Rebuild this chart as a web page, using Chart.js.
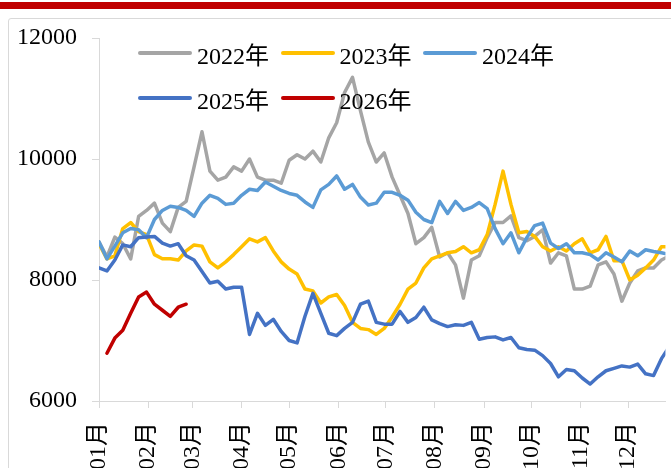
<!DOCTYPE html>
<html>
<head>
<meta charset="utf-8">
<script src="https://cdn.jsdelivr.net/npm/chart.js@4.4.1/dist/chart.umd.min.js"></script>
<style>
html, body { margin: 0; padding: 0; background: #fff; overflow: hidden; }
#wrap { position: relative; width: 671px; height: 468px; overflow: hidden; }
#topbar { position: absolute; left: 0; top: 2px; width: 671px; height: 7px; background: #c00000; }
#frame { position: absolute; left: 8px; top: 18px; width: 720px; height: 520px; border: 1px solid #d9d9d9; border-radius: 3px; }
#chart { position: absolute; left: 0; top: 0; }
.lg-item { position: absolute; height: 30px; display: flex; align-items: center; font: 24px 'Times New Roman', 'Liberation Serif', 'Noto Sans CJK SC', serif; color: #000; white-space: nowrap; }
.lg-line { width: 54px; height: 4px; border-radius: 2px; margin-right: 5px; }
</style>
</head>
<body>
<div id="wrap">
    <div id="topbar"></div>
    <div id="frame"></div>
    <canvas id="chart" width="671" height="468"></canvas>
    <div id="legend"></div>
</div>
<script>

// day of year for each sample (5 day step)
const days = [
    0, 5, 10, 15, 20, 25, 30, 35, 40, 45, 50, 55, 60, 65, 70, 75, 80, 85, 90, 95,
    100, 105, 110, 115, 120, 125, 130, 135, 140, 145, 150, 155, 160, 165, 170, 175, 180, 185, 190, 195,
    200, 205, 210, 215, 220, 225, 230, 235, 240, 245, 250, 255, 260, 265, 270, 275, 280, 285, 290, 295,
    300, 305, 310, 315, 320, 325, 330, 335, 340, 345, 350, 355, 360
];

const monthStarts = [ 0, 31, 59, 90, 120, 151, 181, 212, 243, 273, 304, 334 ];
const monthLabels = [ '01月', '02月', '03月', '04月', '05月', '06月', '07月', '08月', '09月', '10月', '11月', '12月' ];

const yTicks = [ 6000, 8000, 10000, 12000 ];

const seriesNames = [ '2022年', '2023年', '2024年', '2025年', '2026年' ];
const seriesColors = [ '#a5a5a5', '#ffc000', '#5b9bd5', '#4472c4', '#c00000' ];

const y2022 = [
    8630, 8380, 8710, 8600, 8350, 9050, 9150, 9270, 8940, 8800,
    9200, 9300, 9870, 10450, 9800, 9650, 9700, 9870, 9800, 10000,
    9700, 9650, 9650, 9600, 9980, 10070, 10000, 10130, 9950, 10350,
    10600, 11100, 11350, 10800, 10280, 9950, 10100, 9700, 9400, 9100,
    8600, 8700, 8870, 8380, 8450, 8250, 7700, 8330, 8400, 8700,
    8950, 8950, 9060, 8700, 8650, 8720, 8830, 8280, 8450, 8400,
    7850, 7850, 7900, 8250, 8300, 8100, 7650, 7950, 8150, 8200,
    8200, 8330, 8400
];

const y2023 = [
    8600, 8350, 8400, 8850, 8950, 8800, 8750, 8420, 8350, 8350,
    8330, 8480, 8580, 8560, 8300, 8200, 8300, 8420, 8550, 8680,
    8630, 8700, 8480, 8300, 8180, 8100, 7850, 7820, 7620, 7720,
    7760, 7580, 7300, 7200, 7180, 7100, 7200, 7390, 7600, 7850,
    7950, 8200, 8350, 8400, 8450, 8470, 8550, 8450, 8500, 8750,
    9250, 9800, 9250, 8780, 8800, 8720, 8550, 8480, 8550, 8480,
    8600, 8680, 8450, 8500, 8720, 8320, 8320, 8000, 8080, 8200,
    8330, 8550, 8550
];

const y2024 = [
    8630, 8350, 8560, 8780, 8850, 8830, 8700, 9000, 9150, 9220,
    9200, 9150, 9050, 9270, 9400, 9350, 9250, 9270, 9400, 9500,
    9480, 9620, 9550, 9480, 9430, 9400, 9290, 9200, 9490, 9580,
    9720, 9500, 9580, 9370, 9240, 9270, 9450, 9450, 9400, 9320,
    9120, 9000, 8950, 9300, 9100, 9300, 9150, 9200, 9280, 9180,
    8850, 8600, 8780, 8450, 8700, 8900, 8940, 8610, 8520, 8600,
    8450, 8450, 8420, 8330, 8450, 8380, 8300, 8480, 8400, 8500,
    8470, 8450, 8420
];

const y2025 = [
    8200, 8150, 8330, 8580, 8550, 8700, 8710, 8720, 8610, 8560,
    8600, 8400, 8330, 8140, 7950, 7980, 7850, 7880, 7880, 7100,
    7450, 7250, 7350, 7150, 7000, 6960, 7400, 7780, 7450, 7120,
    7080, 7200, 7300, 7600, 7650, 7300, 7270, 7270, 7480, 7300,
    7380, 7550, 7340, 7280, 7230, 7260, 7250, 7300, 7020, 7050,
    7060, 7010, 7050, 6880, 6850, 6840, 6750, 6620, 6400, 6520,
    6500, 6380, 6280, 6400, 6500, 6540, 6580, 6560, 6610, 6450,
    6420, 6700, 6900
];

const y2026 = [ null, 6790, 7040, 7170, 7450, 7720, 7800, 7600, 7500, 7400, 7550, 7600 ];

const seriesValues = [ y2022, y2023, y2024, y2025, y2026 ];

const fontFamily = "'Times New Roman', 'Liberation Serif', 'Noto Sans CJK SC', serif";

/**
 * build the html legend (two rows, three columns)
 */
function legend_add() {

    let box = document.getElementById( 'legend' );

    seriesNames.forEach( ( name, i ) => {

        let item = document.createElement( 'div' ),
            line = document.createElement( 'span' ),
            text = document.createElement( 'span' );

        item.className = 'lg-item';
        item.style.left = ( 138 + ( i % 3 ) * 142.5 ) + 'px';
        item.style.top = ( 38 + Math.floor( i / 3 ) * 45 ) + 'px';
        line.className = 'lg-line';
        line.style.background = seriesColors[ i ];
        text.textContent = name;

        item.appendChild( line );
        item.appendChild( text );
        box.appendChild( item );

    } );

};

/**
 * create the price chart
 */
function chart_price() {

    let ctx = document.getElementById( 'chart' ).getContext( '2d' );

    new Chart( ctx, {
        type: 'line',
        data: {
            datasets: seriesValues.map( ( vals, i ) => ( {
                label: seriesNames[ i ],
                data: vals.map( ( v, j ) => ( { x: days[ j ], y: v } ) ),
                borderColor: seriesColors[ i ],
                borderWidth: 3.5,
                borderJoinStyle: 'round',
                borderCapStyle: 'round',
                pointRadius: 0,
                tension: 0,
                fill: false,
                order: seriesNames.length - i
            } ) )
        },
        options: {
            responsive: false,
            animation: false,
            layout: {
                padding: { top: 38, right: 0, bottom: 0, left: 0 }
            },
            plugins: {
                legend: { display: false },
                tooltip: { enabled: false }
            },
            scales: {
                x: {
                    type: 'linear',
                    min: 0,
                    max: 357.5,
                    border: { color: '#d9d9d9', width: 1 },
                    grid: {
                        drawOnChartArea: false,
                        tickLength: 7,
                        color: '#d9d9d9'
                    },
                    afterBuildTicks: ( axis ) => {
                        axis.ticks = monthStarts.map( v => ( { value: v } ) );
                    },
                    ticks: {
                        autoSkip: false,
                        minRotation: 90,
                        maxRotation: 90,
                        padding: 14,
                        color: '#000',
                        font: { family: fontFamily, size: 24 },
                        callback: ( value, index ) => monthLabels[ index ]
                    },
                    afterFit: ( axis ) => {
                        axis.height = 67;
                    }
                },
                y: {
                    min: 6000,
                    max: 12000,
                    border: { color: '#d9d9d9', width: 1 },
                    grid: {
                        drawOnChartArea: false,
                        tickLength: 7,
                        color: '#d9d9d9'
                    },
                    afterBuildTicks: ( axis ) => {
                        axis.ticks = yTicks.map( v => ( { value: v } ) );
                    },
                    ticks: {
                        padding: 15,
                        color: '#000',
                        font: { family: fontFamily, size: 24 },
                        callback: ( value ) => String( value )
                    },
                    afterFit: ( axis ) => {
                        axis.width = 99;
                    }
                }
            }
        }
    } );

};

document.addEventListener( 'DOMContentLoaded', () => {

    legend_add();
    chart_price();

} );

</script>
</body>
</html>
